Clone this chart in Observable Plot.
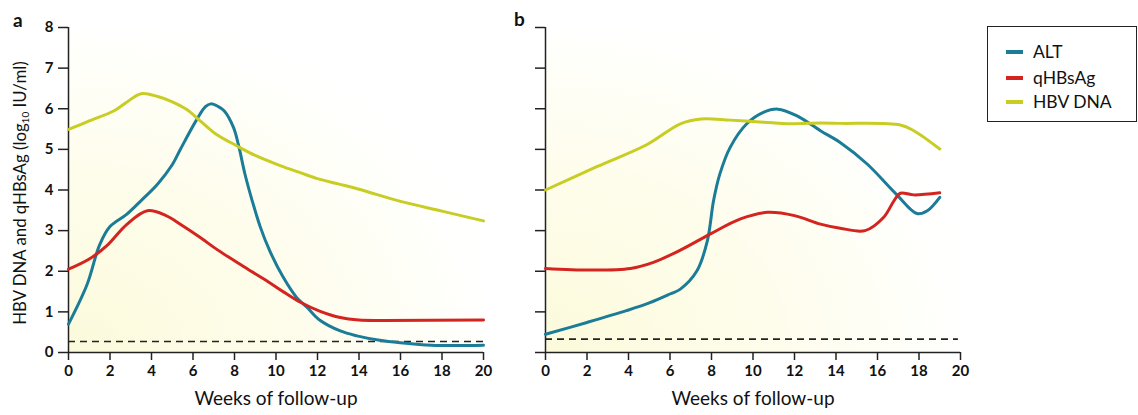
<!DOCTYPE html>
<html><head><meta charset="utf-8">
<script src="https://cdn.jsdelivr.net/npm/d3@7"></script>
<script src="https://cdn.jsdelivr.net/npm/@observablehq/plot@0.6"></script>
<style>
body{margin:0;background:#fff;font-family:Lato,"Open Sans",sans-serif;color:#111;}
#wrap{position:relative;width:1138px;height:415px;overflow:hidden;background:#fff;}
.panel{position:absolute;top:0;}
.tag{position:absolute;font-weight:bold;font-size:19px;line-height:19px;}
#ylab{position:absolute;left:-150px;top:183px;width:340px;height:20px;line-height:20px;text-align:center;font-size:16.8px;transform:rotate(-90deg);white-space:nowrap;}
#ylab sub{font-size:10px;vertical-align:-3px;line-height:0;}
#legend{position:absolute;left:987px;top:26px;width:148px;height:94px;border:1.5px solid #222;}
.li{position:absolute;left:0;height:20px;line-height:20px;font-size:17.5px;}
.sw{position:absolute;left:18px;top:8px;width:17px;height:4px;}
.lt{position:absolute;left:45px;top:0;white-space:nowrap;}
</style></head><body>
<div id="wrap">
  <div id="pa" class="panel" style="left:0"></div>
  <div id="pb" class="panel" style="left:477px"></div>
  <div class="tag" style="left:13px;top:10px">a</div>
  <div class="tag" style="left:514px;top:9px">b</div>
  <div id="ylab">HBV DNA and qHBsAg (log<sub>10</sub> IU/ml)</div>
  <div id="legend"></div>
</div>
<script>
// ---- data ----
const seriesNames = ["ALT", "qHBsAg", "HBV DNA"];
const seriesColors = ["#1b7c98", "#d32420", "#c8cd24"];
const weekTicks = [0, 2, 4, 6, 8, 10, 12, 14, 16, 18, 20];
const valueTicks = [0, 1, 2, 3, 4, 5, 6, 7, 8];

// Panel a
const aAltWeek = [0, 0.9, 1.5, 2.0, 2.8, 3.5, 4.3, 5.0, 5.4, 6.2, 6.6, 6.85, 7.2, 7.5, 7.95, 8.2, 8.5, 8.85, 9.25, 9.7, 10.35, 11.0, 11.5, 12.1, 13.1, 13.9, 15.0, 16.0, 17.5, 20];
const aAltVal  = [0.70, 1.68, 2.65, 3.10, 3.40, 3.74, 4.15, 4.62, 5.01, 5.75, 6.05, 6.12, 6.06, 5.95, 5.54, 5.09, 4.40, 3.74, 3.08, 2.50, 1.85, 1.35, 1.11, 0.80, 0.53, 0.41, 0.30, 0.24, 0.18, 0.18];
const aHbsWeek = [0, 1.0, 1.85, 2.8, 3.8, 4.7, 5.5, 6.35, 7.2, 8.0, 8.8, 9.6, 10.4, 11.2, 12.1, 13.1, 14.0, 15.2, 20];
const aHbsVal  = [2.05, 2.30, 2.63, 3.15, 3.49, 3.37, 3.12, 2.83, 2.52, 2.26, 2.00, 1.75, 1.48, 1.23, 1.02, 0.86, 0.80, 0.79, 0.80];
const aDnaWeek = [0, 1.0, 2.2, 2.8, 3.5, 4.3, 5.0, 5.7, 6.35, 7.1, 8.1, 9.0, 10.2, 11.2, 12.0, 13.0, 14.0, 16.0, 18.0, 20];
const aDnaVal  = [5.49, 5.70, 5.95, 6.16, 6.37, 6.30, 6.17, 5.98, 5.70, 5.38, 5.09, 4.85, 4.60, 4.42, 4.28, 4.15, 4.02, 3.72, 3.48, 3.24];
const aDetectionLimit = 0.27;
const aLimitEnd = 20;

// Panel b
const bAltWeek = [0, 2.0, 3.9, 5.0, 6.0, 6.5, 7.3, 7.8, 8.1, 8.4, 8.9, 9.7, 10.5, 11.2, 12.1, 13.25, 14.2, 15.5, 16.9, 17.9, 18.4, 19.0];
const bAltVal  = [0.45, 0.74, 1.03, 1.22, 1.44, 1.56, 2.01, 2.75, 3.74, 4.39, 5.05, 5.63, 5.91, 5.99, 5.83, 5.46, 5.17, 4.64, 3.90, 3.42, 3.49, 3.82];
const bHbsWeek = [0, 2.2, 4.1, 5.2, 6.5, 7.95, 9.4, 10.7, 12.0, 13.25, 14.2, 15.4, 16.3, 16.8, 17.1, 17.75, 19.0];
const bHbsVal  = [2.07, 2.03, 2.07, 2.22, 2.52, 2.92, 3.29, 3.45, 3.37, 3.16, 3.06, 3.00, 3.33, 3.74, 3.92, 3.88, 3.93];
const bDnaWeek = [0, 2.5, 4.9, 6.5, 7.5, 8.9, 10.5, 11.8, 13.25, 14.2, 17.1, 17.75, 19.0];
const bDnaVal  = [4.00, 4.58, 5.12, 5.63, 5.75, 5.72, 5.67, 5.63, 5.65, 5.64, 5.60, 5.46, 5.01];
const bDetectionLimit = 0.33;
const bLimitEnd = 19.9;

// ---- build ----
function table(parts) {
  const rows = [];
  parts.forEach(([name, wk, val]) => wk.forEach((w, i) => rows.push({series: name, week: w, value: val[i]})));
  return rows;
}
const dataA = table([["ALT", aAltWeek, aAltVal], ["qHBsAg", aHbsWeek, aHbsVal], ["HBV DNA", aDnaWeek, aDnaVal]]);
const dataB = table([["ALT", bAltWeek, bAltVal], ["qHBsAg", bHbsWeek, bHbsVal], ["HBV DNA", bDnaWeek, bDnaVal]]);

function gradientDefs(id) {
  return () => {
    const defs = d3.create("svg:defs");
    const g = defs.append("radialGradient").attr("id", id)
      .attr("cx", 0).attr("cy", 1).attr("r", 1.05);
    g.append("stop").attr("offset", 0).attr("stop-color", "#fcfadb");
    g.append("stop").attr("offset", 0.5).attr("stop-color", "#fefdeb");
    g.append("stop").attr("offset", 1).attr("stop-color", "#ffffff");
    return defs.node();
  };
}

function panel(data, limit, limitEnd, gid, showLabels) {
  return Plot.plot({
    width: 500, height: 415,
    marginLeft: 68, marginRight: 17, marginTop: 27, marginBottom: 63,
    style: {fontFamily: "Lato, 'Open Sans', sans-serif", fontSize: "15px", color: "#111", background: "transparent", overflow: "visible"},
    x: {domain: [0, 20]},
    y: {domain: [0, 8]},
    color: {domain: seriesNames, range: seriesColors},
    marks: [
      gradientDefs(gid),
      Plot.frame({fill: `url(#${gid})`, stroke: null}),
      Plot.axisY({ticks: valueTicks, tickSize: 10, tickPadding: 5, label: null, stroke: "#222", strokeWidth: 1.5,
                  fontWeight: "bold", fontSize: 15, tickFormat: showLabels ? (d => d) : (() => "")}),
      Plot.axisX({ticks: weekTicks, tickSize: 8, tickPadding: 5, label: null, stroke: "#222", strokeWidth: 1.5,
                  fontWeight: "bold", fontSize: 15}),
      Plot.ruleX([0], {y1: 0, y2: 8, stroke: "#222", strokeWidth: 1.5}),
      Plot.ruleY([0], {x1: 0, x2: 20, stroke: "#222", strokeWidth: 1.5}),
      Plot.ruleY([limit], {x1: 0, x2: limitEnd, stroke: "#222", strokeWidth: 1.6, strokeDasharray: "7,5"}),
      Plot.line(data, {x: "week", y: "value", z: "series", stroke: "series", strokeWidth: 3, curve: "catmull-rom"}),
      Plot.text(["Weeks of follow-up"], {frameAnchor: "bottom", dy: 52, fontSize: 19, fill: "#111"})
    ]
  });
}

document.getElementById("pa").append(panel(dataA, aDetectionLimit, aLimitEnd, "bgA", true));
document.getElementById("pb").append(panel(dataB, bDetectionLimit, bLimitEnd, "bgB", false));

const leg = document.getElementById("legend");
const rowTops = [15, 41, 65];
seriesNames.forEach((n, i) => {
  const row = document.createElement("div");
  row.className = "li";
  row.style.top = rowTops[i] + "px";
  row.innerHTML = `<div class="sw" style="background:${seriesColors[i]}"></div><div class="lt">${n}</div>`;
  leg.append(row);
});
</script>
</body></html>
